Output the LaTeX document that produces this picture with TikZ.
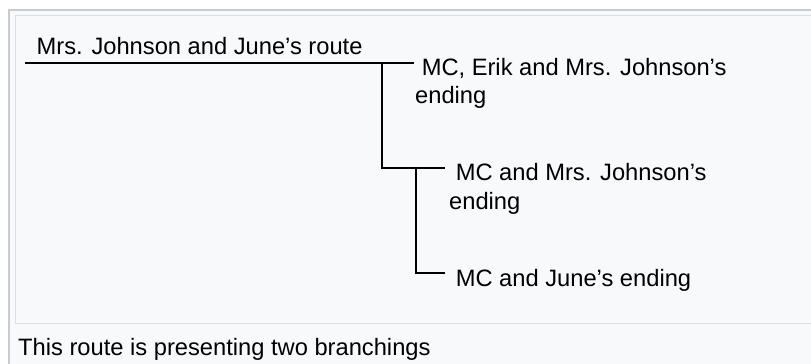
\documentclass[tikz,border=0pt]{standalone}
\usepackage{fontspec}
\setmainfont{Liberation Sans}
\definecolor{outerborder}{HTML}{C8CCD1}
\definecolor{innerborder}{HTML}{DADDE1}
\definecolor{panelfill}{HTML}{F8F9FA}
\tikzset{
  lbl/.style={anchor=base west, inner sep=0pt, font=\fontsize{23.7}{28.5}\selectfont, text=black},
  multilbl/.style={lbl, align=left},
  branch/.style={draw=black, line width=2pt},
}
\begin{document}
\begin{tikzpicture}[x=1pt,y=-1pt]
\useasboundingbox (0,0) rectangle (811,364);
\fill[white] (0,0) rectangle (811,364);
% outer frame
\filldraw[fill=panelfill, draw=outerborder, line width=2pt] (8.5,9.5) rectangle (830,390);
% inner frame
\filldraw[fill=panelfill, draw=innerborder, line width=1.5pt] (15.5,15.5) rectangle (830,323.5);

\node[lbl] (root) at (36.5,54) {Mrs. Johnson and June’s route};
\node[multilbl] (end1) at (415,103.5) {\ MC, Erik and Mrs. Johnson’s\\ending};
\node[multilbl] (end2) at (449,209) {\ MC and Mrs. Johnson’s\\ending};
\node[lbl] (end3) at (449,286) {\ MC and June’s ending};

\coordinate (r0) at (25,62.5);
\coordinate (j1) at (382,62.5);
\coordinate (t1) at (414,62.5);
\coordinate (j2) at (416,168);
\coordinate (t2) at (445,168);
\coordinate (t3) at (445,273);

\draw[branch] (r0) -- (t1);
\draw[branch] (j1) |- (t2);
\draw[branch] (j2) |- (t3);

\node[lbl] (caption) at (18,355) {This route is presenting two branchings};
\end{tikzpicture}
\end{document}
